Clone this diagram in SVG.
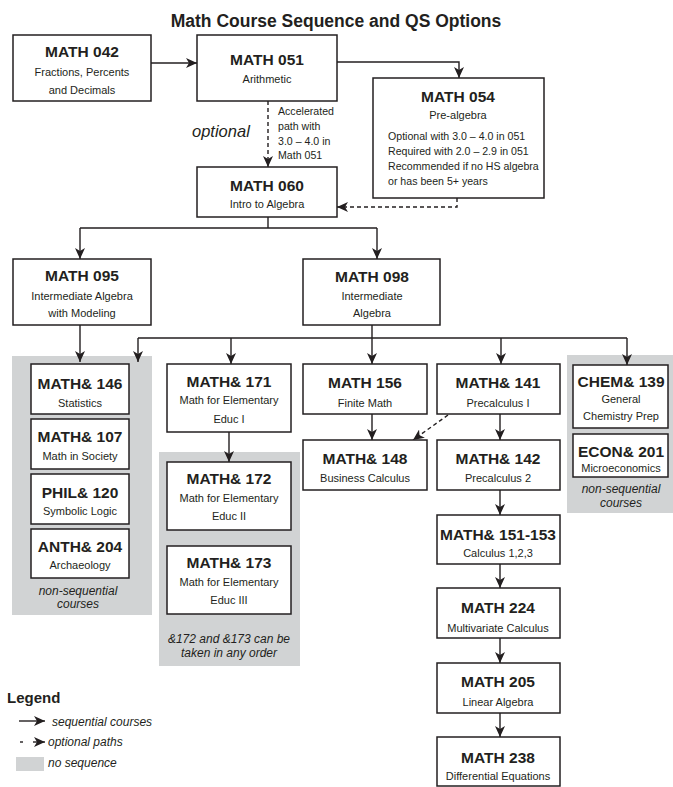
<svg xmlns="http://www.w3.org/2000/svg" width="673" height="787" viewBox="0 0 673 787">
<defs>
<style>
.bx{fill:#fff;stroke:#231f20;stroke-width:1.5}
.gr{fill:#d1d3d4}
.h{font-family:"Liberation Sans",Arial,sans-serif;font-weight:bold;font-size:15.5px;fill:#231f20;text-anchor:middle}
.s{font-family:"Liberation Sans",Arial,sans-serif;font-size:11px;fill:#231f20;text-anchor:middle}
.l{font-family:"Liberation Sans",Arial,sans-serif;font-size:10.6px;fill:#231f20}
.i{font-family:"Liberation Sans",Arial,sans-serif;font-style:italic;font-size:12px;fill:#231f20;text-anchor:middle}
.il{font-family:"Liberation Sans",Arial,sans-serif;font-style:italic;font-size:12px;fill:#231f20}
.c{fill:none;stroke:#231f20;stroke-width:1.4}
.d{fill:none;stroke:#231f20;stroke-width:1.4;stroke-dasharray:4 3}
</style>
<marker id="ah" viewBox="0 0 11 10" refX="11" refY="5" markerWidth="11" markerHeight="10" markerUnits="userSpaceOnUse" orient="auto">
<path d="M0,0 L11,5 L0,10 L3,5 z" fill="#231f20"/>
</marker>
</defs>
<rect width="673" height="787" fill="#fff"/>
<text x="336" y="27" style="font-family:'Liberation Sans',Arial,sans-serif;font-weight:bold;font-size:17.5px;fill:#231f20;text-anchor:middle">Math Course Sequence and QS Options</text>

<g id="gray-areas">
<rect class="gr" x="12" y="356" width="140" height="259"/>
<rect class="gr" x="159" y="452" width="141" height="214"/>
<rect class="gr" x="567" y="355" width="106" height="158"/>
</g>

<g id="connectors">
<path class="c" d="M151,63 H197" marker-end="url(#ah)"/>
<path class="c" d="M337,62 H459 V78" marker-end="url(#ah)"/>
<path class="d" d="M268,101 V167" marker-end="url(#ah)"/>
<path class="d" d="M457,198 V207 H337" marker-end="url(#ah)"/>
<path class="c" d="M268,217 V228 M80,228 H377"/>
<path class="c" d="M80,228 V259" marker-end="url(#ah)"/>
<path class="c" d="M377,228 V259" marker-end="url(#ah)"/>
<path class="c" d="M80,325 V362" marker-end="url(#ah)"/>
<path class="c" d="M372,325 V338 M138,338 H627"/>
<path class="c" d="M138,338 V362" marker-end="url(#ah)"/>
<path class="c" d="M231,338 V364" marker-end="url(#ah)"/>
<path class="c" d="M372,338 V364" marker-end="url(#ah)"/>
<path class="c" d="M501,338 V364" marker-end="url(#ah)"/>
<path class="c" d="M627,338 V365" marker-end="url(#ah)"/>
<path class="c" d="M229,432 V462" marker-end="url(#ah)"/>
<path class="c" d="M372,414 V440" marker-end="url(#ah)"/>
<path class="d" d="M448,415 L413,440" marker-end="url(#ah)"/>
<path class="c" d="M500,414 V440" marker-end="url(#ah)"/>
<path class="c" d="M500,490 V515" marker-end="url(#ah)"/>
<path class="c" d="M500,564 V588" marker-end="url(#ah)"/>
<path class="c" d="M500,638 V663" marker-end="url(#ah)"/>
<path class="c" d="M500,713 V737" marker-end="url(#ah)"/>
<text x="192" y="137" style="font-family:'Liberation Sans',Arial,sans-serif;font-style:italic;font-size:16.5px;fill:#231f20">optional</text>
<text class="l" x="278" y="115">Accelerated</text>
<text class="l" x="278" y="130">path with</text>
<text class="l" x="278" y="144.5">3.0 – 4.0 in</text>
<text class="l" x="278" y="159">Math 051</text>
</g>

<g id="math042"><rect class="bx" x="13" y="35" width="138" height="66"/>
<text class="h" x="82" y="57">MATH 042</text><text class="s" x="82" y="76">Fractions, Percents</text><text class="s" x="82" y="94">and Decimals</text></g>

<g id="math051"><rect class="bx" x="197" y="35" width="140" height="66"/>
<text class="h" x="267" y="65">MATH 051</text><text class="s" x="267" y="83">Arithmetic</text></g>

<g id="math054"><rect class="bx" x="373" y="78" width="171" height="120"/>
<text class="h" x="458" y="102">MATH 054</text><text class="s" x="458" y="119">Pre-algebra</text>
<text class="l" x="388" y="140">Optional with 3.0 – 4.0 in 051</text>
<text class="l" x="388" y="155">Required with 2.0 – 2.9 in 051</text>
<text class="l" x="388" y="170">Recommended if no HS algebra</text>
<text class="l" x="388" y="185">or has been 5+ years</text></g>

<g id="math060"><rect class="bx" x="197" y="167" width="140" height="50"/>
<text class="h" x="267" y="191">MATH 060</text><text class="s" x="267" y="208">Intro to Algebra</text></g>

<g id="math095"><rect class="bx" x="13" y="259" width="138" height="66"/>
<text class="h" x="82" y="281">MATH 095</text><text class="s" x="82" y="300">Intermediate Algebra</text><text class="s" x="82" y="317">with Modeling</text></g>

<g id="math098"><rect class="bx" x="303" y="259" width="137" height="66"/>
<text class="h" x="372" y="282">MATH 098</text><text class="s" x="372" y="300">Intermediate</text><text class="s" x="372" y="317">Algebra</text></g>

<g id="math146"><rect class="bx" x="31" y="364" width="98" height="50"/>
<text class="h" x="80" y="389">MATH&amp; 146</text><text class="s" x="80" y="407">Statistics</text></g>
<g id="math107"><rect class="bx" x="31" y="419" width="98" height="50"/>
<text class="h" x="80" y="442">MATH&amp; 107</text><text class="s" x="80" y="460">Math in Society</text></g>
<g id="phil120"><rect class="bx" x="31" y="474" width="98" height="50"/>
<text class="h" x="80" y="498">PHIL&amp; 120</text><text class="s" x="80" y="515">Symbolic Logic</text></g>
<g id="anth204"><rect class="bx" x="31" y="529" width="98" height="49"/>
<text class="h" x="80" y="552">ANTH&amp; 204</text><text class="s" x="80" y="569">Archaeology</text></g>
<text class="i" x="78" y="595">non-sequential</text>
<text class="i" x="78" y="608">courses</text>

<g id="math171"><rect class="bx" x="167" y="364" width="124" height="68"/>
<text class="h" x="229" y="387">MATH&amp; 171</text><text class="s" x="229" y="404">Math for Elementary</text><text class="s" x="229" y="423">Educ I</text></g>
<g id="math172"><rect class="bx" x="167" y="462" width="124" height="68"/>
<text class="h" x="229" y="484">MATH&amp; 172</text><text class="s" x="229" y="502">Math for Elementary</text><text class="s" x="229" y="520">Educ II</text></g>
<g id="math173"><rect class="bx" x="167" y="546" width="124" height="68"/>
<text class="h" x="229" y="568">MATH&amp; 173</text><text class="s" x="229" y="586">Math for Elementary</text><text class="s" x="229" y="604">Educ III</text></g>
<text class="i" x="229" y="643">&amp;172 and &amp;173 can be</text>
<text class="i" x="229" y="657">taken in any order</text>

<g id="math156"><rect class="bx" x="303" y="364" width="124" height="50"/>
<text class="h" x="365" y="388">MATH 156</text><text class="s" x="365" y="407">Finite Math</text></g>
<g id="math148"><rect class="bx" x="303" y="440" width="124" height="50"/>
<text class="h" x="365" y="464">MATH&amp; 148</text><text class="s" x="365" y="482">Business Calculus</text></g>

<g id="math141"><rect class="bx" x="437" y="364" width="123" height="50"/>
<text class="h" x="498" y="388">MATH&amp; 141</text><text class="s" x="498" y="407">Precalculus I</text></g>
<g id="math142"><rect class="bx" x="437" y="440" width="123" height="50"/>
<text class="h" x="498" y="464">MATH&amp; 142</text><text class="s" x="498" y="482">Precalculus 2</text></g>
<g id="math151"><rect class="bx" x="437" y="515" width="123" height="49"/>
<text class="h" x="498" y="540">MATH&amp; 151-153</text><text class="s" x="498" y="557">Calculus 1,2,3</text></g>
<g id="math224"><rect class="bx" x="437" y="588" width="123" height="50"/>
<text class="h" x="498" y="613">MATH 224</text><text class="s" x="498" y="632">Multivariate Calculus</text></g>
<g id="math205"><rect class="bx" x="437" y="663" width="123" height="50"/>
<text class="h" x="498" y="687">MATH 205</text><text class="s" x="498" y="706">Linear Algebra</text></g>
<g id="math238"><rect class="bx" x="437" y="737" width="123" height="49"/>
<text class="h" x="498" y="763">MATH 238</text><text class="s" x="498" y="780">Differential Equations</text></g>

<g id="chem139"><rect class="bx" x="573" y="365" width="95" height="63"/>
<text class="h" x="621" y="387">CHEM&amp; 139</text><text class="s" x="621" y="403">General</text><text class="s" x="621" y="420">Chemistry Prep</text></g>
<g id="econ201"><rect class="bx" x="573" y="434" width="95" height="43"/>
<text class="h" x="621" y="457">ECON&amp; 201</text><text class="s" x="621" y="472">Microeconomics</text></g>
<text class="i" x="621" y="493">non-sequential</text>
<text class="i" x="621" y="507">courses</text>

<g id="legend">
<text x="7" y="703" style="font-family:'Liberation Sans',Arial,sans-serif;font-weight:bold;font-size:15px;fill:#231f20">Legend</text>
<path class="c" d="M19,721 H45" marker-end="url(#ah)"/>
<text class="il" x="52" y="726">sequential courses</text>
<path class="c" d="M20,742 H23"/>
<path class="c" d="M33,742 H45" marker-end="url(#ah)"/>
<text class="il" x="48" y="746">optional paths</text>
<rect class="gr" x="16" y="757" width="28" height="14"/>
<text class="il" x="48" y="767">no sequence</text>
</g>
</svg>
